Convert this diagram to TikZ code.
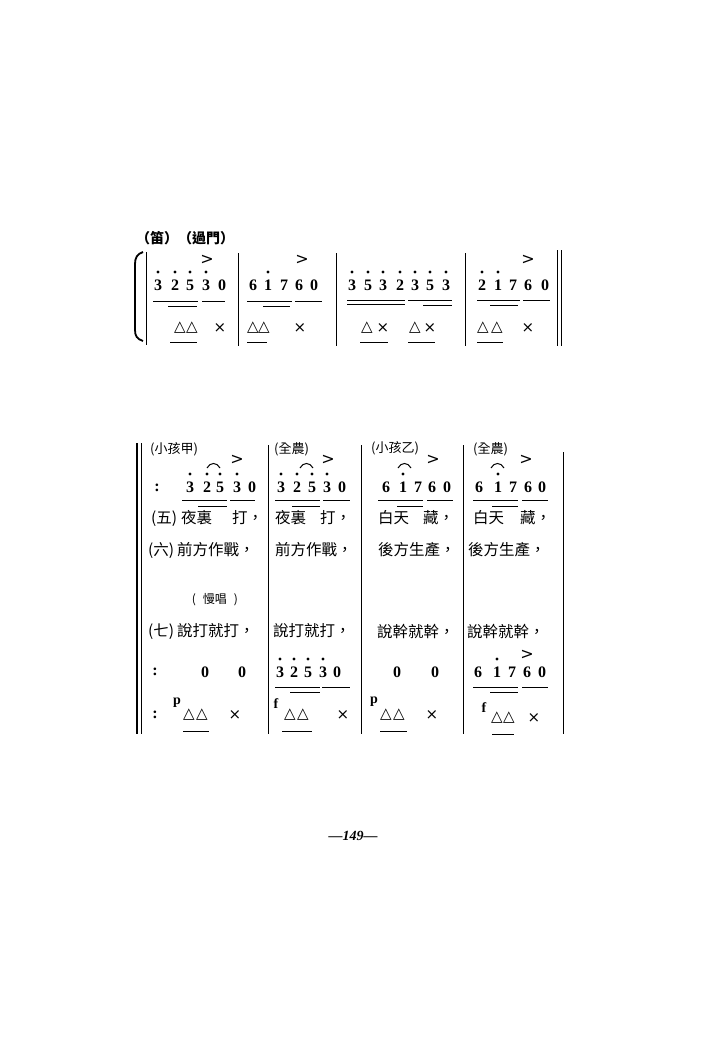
\documentclass[tikz,border=0pt]{standalone}
\usepackage{fontspec}
\setmainfont{Liberation Serif}
\newfontfamily\cjk{Noto Sans CJK TC}
\newfontfamily\symb{DejaVu Sans}
\usetikzlibrary{positioning}

\tikzset{
  num/.style={inner sep=0pt,font=\fontsize{16}{16}\selectfont\bfseries},
  perc/.style={inner sep=0pt,font=\symb\fontsize{15}{15}\selectfont},
  acc/.style={inner sep=0pt,font=\symb\fontsize{16}{16}\selectfont},
  lyric/.style={inner sep=0pt,anchor=west,font=\cjk\fontsize{15.5}{15.5}\selectfont},
  role/.style={inner sep=0pt,anchor=west,font=\cjk\fontsize{13}{13}\selectfont},
  dyn/.style={inner sep=0pt,font=\fontsize{14}{14}\selectfont\bfseries},
  beam/.style={line width=.8pt},
  barline/.style={line width=.9pt},
  tie/.style={line width=1pt}
}

\begin{document}
\begin{tikzpicture}[x=1pt,y=-1pt]
\useasboundingbox (0,0) rectangle (710,1044);
\fill[white] (0,0) rectangle (710,1044);

%first system: heading, bracket, barlines
\node[inner sep=0pt,anchor=west,font=\cjk\bfseries\fontsize{14}{14}\selectfont] (head) at (136,238) {（笛）（過門）};
\draw[line width=1.8pt] (143,252) .. controls (137,254) and (135,258) .. (135,264) -- (135,330) .. controls (135,336) and (137,339) .. (143,341);
\draw[barline] (146,252) -- (146,345);
\foreach \x in {238,336,465} \draw[barline] (\x,253) -- (\x,346);
\draw[line width=1.6pt] (557.5,250) -- (557.5,346) (561.5,250) -- (561.5,346);

%first system: notes
\foreach \x/\d [count=\i] in {158/3,175/2,190/5,206/3,222/0,253/6,268/1,284/7,299/6,314/0,352/3,368/5,383/3,400/2,415/3,430/5,446/3,482/2,498/1,513/7,528/6,545/0}
  \node[num] (ta\i) at (\x,285) {\d};
\foreach \x in {158,175,190,206,268,352,368,383,400,415,430,446,482,498}
  \fill (\x,272) circle (1.6pt);
\foreach \x [count=\i] in {207,302,528}
  \node[acc] (tacc\i) at (\x,260) {>};
\foreach \a/\b/\y in {153/198/301,202/225/301,168/197/306,247/292/301,295/322/301,263/290/306,347/405/300,347/405/304,408/452/300,423/452/305,477/520/300,523/550/300,490/518/305}
  \draw[beam] (\a,\y) -- (\b,\y);

%first system: percussion
\foreach \x/\s [count=\i] in {180/△,192/△,220/×,253/△,264/△,300/×,367/△,383/×,415/△,430/×,483/△,497/△,528/×}
  \node[perc] (tp\i) at (\x,328) {\s};
\foreach \a/\b in {170/197,247/267,360/388,408/435,477/503}
  \draw[beam] (\a,342) -- (\b,342);

%second system: barlines
\draw[line width=2pt] (137,443) -- (137,734);
\draw[barline] (141.5,443) -- (141.5,734);
\foreach \x in {268,361,463} \draw[barline] (\x,445) -- (\x,734);
\draw[barline] (563,452) -- (563,734);

%second system: singers
\node[role] (jia) at (150,449) {(小孩甲)};
\node[role] (quan1) at (274,449) {(全農)};
\node[role] (yi) at (371,448) {(小孩乙)};
\node[role] (quan2) at (473,449) {(全農)};

%second system: melody
\node[num] (rep1) at (157,488) {:};
\foreach \x/\d [count=\i] in {190/3,207/2,220/5,237/3,252/0,281/3,297/2,312/5,327/3,342/0,386/6,403/1,418/7,432/6,447/0,479/6,498/1,513/7,528/6,542/0}
  \node[num] (ma\i) at (\x,487) {\d};
\foreach \x in {190,207,220,237,281,297,312,327,403,498}
  \fill (\x,474) circle (1.6pt);
\foreach \a in {207,300,398,491}
  \draw[tie] (\a,468) .. controls (\a+3,462) and (\a+10,462) .. (\a+13,468);
\foreach \x [count=\i] in {237,328,433,526}
  \node[acc] (macc\i) at (\x,460) {>};
\foreach \a/\b/\y in {182/227/500,230/255/500,198/227/506,275/320/500,323/350/500,292/320/506,378/423/500,427/453/500,397/423/506,473/518/500,522/548/500,492/518/506}
  \draw[beam] (\a,\y) -- (\b,\y);

%second system: lyrics
\node[lyric] (l1a) at (151,518) {(五)\hspace{4pt}夜裏\hspace{20pt}打，};
\node[lyric] (l1b) at (275,518) {夜裏\hspace{14pt}打，};
\node[lyric] (l1c) at (378,518) {白天\hspace{14pt}藏，};
\node[lyric] (l1d) at (473,518) {白天\hspace{16pt}藏，};
\node[lyric] (l2a) at (148,550) {(六)\hspace{3pt}前方作戰，};
\node[lyric] (l2b) at (275,550) {前方作戰，};
\node[lyric] (l2c) at (378,550) {後方生產，};
\node[lyric] (l2d) at (468,550) {後方生產，};
\node[inner sep=0pt,font=\cjk\fontsize{12}{12}\selectfont] (slow) at (215,600) {(\hspace{7pt}慢唱\hspace{7pt})};
\node[lyric] (l3a) at (148,631) {(七)\hspace{3pt}說打就打，};
\node[lyric] (l3b) at (273,631) {說打就打，};
\node[lyric] (l3c) at (377,631) {說幹就幹，};
\node[lyric] (l3d) at (467,631) {說幹就幹，};

%second system: rests and answers
\node[num] (rep2) at (155,672) {:};
\foreach \x/\d [count=\i] in {205/0,242/0,280/3,294/2,308/5,323/3,337/0,397/0,435/0,478/6,497/1,512/7,527/6,542/0}
  \node[num] (ra\i) at (\x,672) {\d};
\foreach \x in {280,294,308,323,497}
  \fill (\x,659) circle (1.6pt);
\node[acc] (racc) at (527,655) {>};
\foreach \a/\b/\y in {275/320/687,322/350/687,290/320/692,473/518/687,522/548/687,490/518/692}
  \draw[beam] (\a,\y) -- (\b,\y);

%second system: percussion
\node[num] (rep3) at (155,715) {:};
\foreach \x/\y/\s [count=\i] in {177/703/p,276/704/f,374/702/p,484/708/f}
  \node[dyn] (dy\i) at (\x,\y) {\s};
\foreach \x/\y/\s [count=\i] in {189/715/△,202/715/△,235/715/×,290/715/△,303/715/△,343/715/×,386/715/△,399/715/△,432/715/×,497/718/△,509/718/△,534/718/×}
  \node[perc] (mp\i) at (\x,\y) {\s};
\foreach \a/\b/\y in {183/209/731,282/312/731,380/407/731,492/514/734}
  \draw[beam] (\a,\y) -- (\b,\y);

%page number
\node[inner sep=0pt,font=\fontsize{14}{14}\selectfont\bfseries\itshape] (page) at (353,836) {\textemdash149\textemdash};
\end{tikzpicture}
\end{document}
